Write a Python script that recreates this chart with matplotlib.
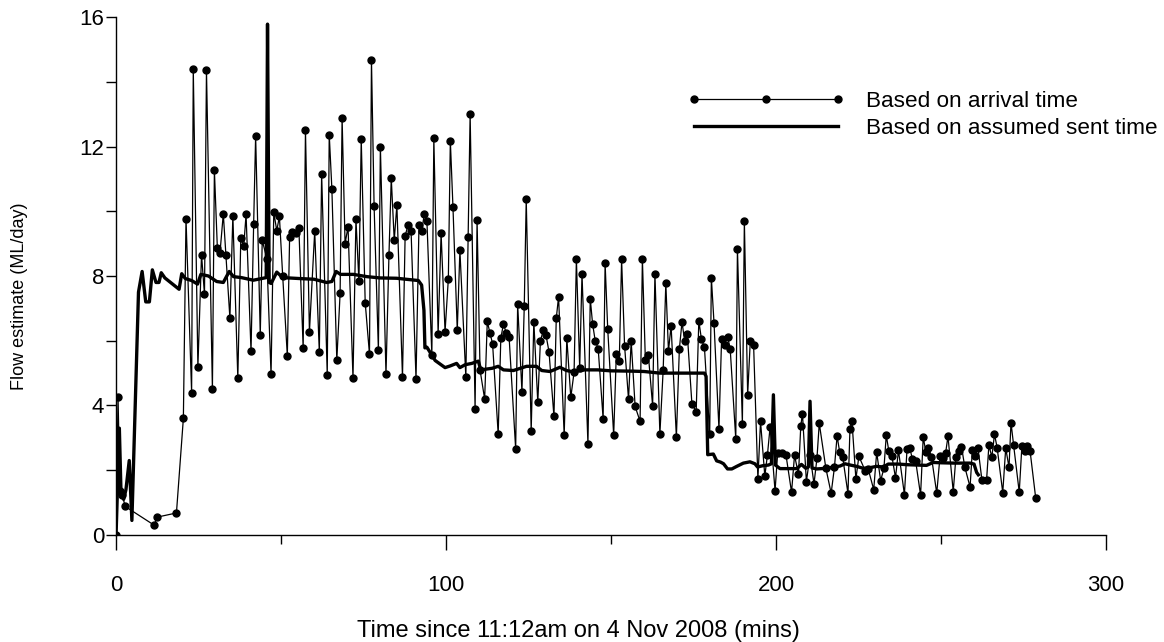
import matplotlib
matplotlib.use("Agg")
import matplotlib.pyplot as plt
from matplotlib.ticker import MultipleLocator

plt.rcParams['font.family'] = ['Liberation Sans', 'DejaVu Sans']

# flow estimates keyed on packet arrival time
arrival_t = [0.0, 0.6, 1.2, 1.8, 2.8, 11.6, 12.4, 18.3, 20.4, 21.2, 22.9, 23.4, 24.8, 25.9,
             26.8, 27.4, 29.2, 29.8, 30.7, 31.5, 32.5, 33.3, 34.5, 35.4, 36.9, 37.8, 38.7,
             39.4, 40.9, 41.7, 42.3, 43.7, 44.3, 45.7, 46.97, 47.8, 48.7, 49.5, 50.5, 51.9,
             52.6, 53.4, 54.4, 55.4, 56.7, 57.4, 58.6, 60.2, 61.6, 62.3, 64.0, 64.6, 65.4,
             66.9, 67.9, 68.5, 69.4, 70.3, 71.8, 72.7, 73.6, 74.3, 75.5, 76.8, 77.4, 78.2,
             79.5, 80.1, 81.8, 82.7, 83.4, 84.3, 85.1, 86.8, 87.6, 88.5, 89.4, 90.9, 91.8,
             92.6, 93.4, 94.2, 95.7, 96.3, 97.6, 98.5, 99.7, 100.7, 101.3, 102.1, 103.4,
             104.2, 106.0, 106.7, 107.3, 108.8, 109.4, 110.3, 111.7, 112.5, 113.3, 114.1,
             115.8, 116.6, 117.4, 118.2, 119.1, 121.1, 121.7, 123.0, 123.7, 124.3, 125.8,
             126.6, 127.8, 128.6, 129.5, 130.3, 131.2, 132.7, 133.4, 134.1, 135.8, 136.6,
             137.8, 138.8, 139.5, 140.5, 141.2, 143.0, 143.7, 144.4, 145.2, 146.1, 147.6,
             148.2, 149.0, 150.8, 151.6, 152.5, 153.2, 154.1, 155.3, 156.1, 157.3, 158.8,
             159.5, 160.4, 161.3, 162.6, 163.3, 164.8, 165.8, 166.6, 167.4, 168.2, 169.8,
             170.7, 171.5, 172.3, 173.1, 174.5, 175.8, 176.6, 177.4, 178.3, 179.9, 180.4,
             181.2, 182.7, 183.5, 184.4, 185.3, 186.1, 187.8, 188.3, 189.8, 190.4, 191.4,
             192.2, 193.2, 194.5, 195.3, 196.6, 197.4, 198.2, 199.7, 200.5, 201.7, 203.0,
             204.7, 205.6, 206.8, 207.5, 208.0, 209.2, 210.3, 211.5, 212.4, 213.1, 215.1,
             216.7, 217.7, 218.5, 219.3, 220.2, 221.8, 222.4, 223.0, 224.2, 225.1, 227.0,
             227.9, 229.6, 230.5, 231.7, 232.7, 233.4, 234.2, 235.1, 236.2, 237.1, 238.9,
             239.7, 240.5, 241.3, 242.3, 243.8, 244.6, 245.4, 246.2, 247.1, 248.7, 249.7,
             250.6, 251.4, 252.1, 253.7, 254.5, 255.4, 256.2, 257.2, 258.8, 259.5, 260.4,
             261.2, 262.4, 263.8, 264.5, 265.4, 266.2, 267.0, 268.7, 269.6, 270.6, 271.2,
             272.0, 273.7, 274.5, 275.3, 276.1, 277.0, 278.7]
arrival_flow = [0.0, 4.25, 1.35, 1.25, 0.88, 0.3, 0.55, 0.68, 3.6, 9.77, 4.4, 14.4, 5.19, 8.66,
                7.43, 14.36, 4.5, 11.27, 8.86, 8.72, 9.92, 8.64, 6.7, 9.86, 4.84, 9.16, 8.93,
                9.9, 5.67, 9.62, 12.33, 6.18, 9.1, 8.54, 4.96, 9.97, 9.4, 9.84, 8.0, 5.54,
                9.21, 9.36, 9.32, 9.48, 5.78, 12.5, 6.27, 9.38, 5.64, 11.15, 4.95, 12.37, 10.7,
                5.4, 7.47, 12.89, 9.0, 9.52, 4.85, 9.75, 7.83, 12.23, 7.18, 5.58, 14.68, 10.15,
                5.71, 12.0, 4.96, 8.65, 11.02, 9.11, 10.19, 4.88, 9.24, 9.58, 9.39, 4.82, 9.58,
                9.38, 9.9, 9.71, 5.57, 12.25, 6.22, 9.32, 6.28, 7.92, 12.18, 10.12, 6.33,
                8.79, 4.88, 9.22, 13.0, 3.88, 9.73, 5.1, 4.2, 6.6, 6.24, 5.91,
                3.12, 6.08, 6.52, 6.25, 6.13, 2.65, 7.13, 4.43, 7.06, 10.37, 3.21,
                6.59, 4.1, 6.0, 6.33, 6.17, 5.66, 3.66, 6.69, 7.36, 3.08, 6.08,
                4.25, 5.03, 8.52, 5.16, 8.06, 2.81, 7.3, 6.53, 6.0, 5.76, 3.59,
                8.4, 6.35, 3.08, 5.6, 5.38, 8.51, 5.85, 4.19, 5.99, 3.97, 3.51,
                8.53, 5.4, 5.57, 3.99, 8.07, 3.12, 5.1, 7.78, 5.68, 6.47, 3.02,
                5.74, 6.58, 6.0, 6.22, 4.06, 3.81, 6.62, 6.04, 5.8, 3.13, 7.94,
                6.56, 3.28, 6.06, 5.86, 6.13, 5.76, 2.96, 8.84, 3.44, 9.71, 4.33,
                6.0, 5.87, 1.73, 3.51, 1.82, 2.48, 3.34, 1.36, 2.54, 2.52, 2.48,
                1.32, 2.46, 1.88, 3.37, 3.75, 1.65, 2.47, 1.58, 2.37, 3.45, 2.06,
                1.29, 2.09, 3.06, 2.55, 2.4, 1.28, 3.28, 3.52, 1.73, 2.43, 1.99,
                2.05, 1.4, 2.55, 1.68, 2.06, 3.08, 2.58, 2.44, 1.77, 2.61, 1.25,
                2.66, 2.7, 2.35, 2.29, 1.23, 3.02, 2.57, 2.69, 2.41, 1.29, 2.44,
                2.37, 2.54, 3.05, 1.34, 2.4, 2.6, 2.73, 2.1, 1.48, 2.64, 2.45,
                2.68, 1.69, 1.7, 2.77, 2.41, 3.11, 2.7, 1.31, 2.68, 2.09, 3.47,
                2.77, 1.32, 2.75, 2.58, 2.75, 2.58, 1.13]

# flow estimates keyed on the assumed send time
sent_t = [0, 1.0, 1.5, 2.3, 3.0, 4.0, 4.8, 6.8, 7.9, 9.0, 10.1, 11.0, 12.1, 13.0, 13.7, 14.8,
          16.9, 19.1, 19.9, 21.0, 22.9, 24.7, 25.7, 28.0, 30.5, 32.5, 34.3, 35.6, 38.0, 41.6,
          44.0, 45.5, 45.9, 46.4, 47.0, 48.7, 50.5, 55.8, 60.0, 63.8, 65.4, 66.7, 68.0, 71.9,
          76.0, 80.0, 85.0, 91.6, 92.6, 93.3, 93.6, 94.2, 95.0, 96.7, 98.2, 99.7, 101.2,
          103.2, 104.2, 105.8, 107.8, 109.8, 110.5, 114.0, 115.8, 117.4, 120.4, 122.5,
          124.4, 127.4, 129.0, 131.5, 134.5, 136.5, 138.5, 142.0, 146.0, 150.0, 156.7,
          160.0, 164.8, 170.0, 178.3, 178.8, 179.3, 181.0, 182.0, 183.2, 184.1, 185.3,
          186.6, 188.1, 190.1, 192.1, 193.6, 194.4, 196.0, 197.7, 198.6, 199.2, 199.8,
          201.2, 203.5, 206.3, 207.7, 209.0, 209.8, 210.3, 210.9, 212.3, 215.3, 217.5,
          219.4, 220.9, 222.5, 224.4, 226.4, 228.5, 230.5, 232.5, 234.0, 237.0, 240.0,
          243.0, 245.6, 247.6, 250.0, 254.0, 258.8, 260.0, 260.8, 261.3]
sent_flow = [0, 3.3, 1.3, 1.1, 1.4, 2.3, 0.45, 7.5, 8.14, 7.2, 7.2, 8.19, 7.8, 7.8, 8.1, 7.94,
             7.77, 7.59, 8.07, 7.92, 7.86, 7.75, 8.05, 8.0, 7.83, 7.8, 8.14, 7.98, 7.95, 7.87,
             7.92, 7.95, 15.78, 7.8, 7.77, 8.12, 7.95, 7.92, 7.9, 7.8, 7.83, 8.14, 8.05, 8.05,
             7.98, 7.94, 7.93, 7.86, 7.72, 6.94, 5.78, 5.8, 5.67, 5.39, 5.28, 5.17, 5.22,
             5.3, 5.17, 5.26, 5.3, 5.37, 5.1, 5.15, 5.21, 5.1, 5.08, 5.15,
             5.21, 5.21, 5.08, 5.05, 5.18, 5.08, 5.04, 5.1, 5.1, 5.07, 5.06,
             5.05, 5.0, 5.0, 5.0, 4.9, 2.48, 2.5, 2.29, 2.25, 2.2, 2.04,
             2.04, 2.12, 2.22, 2.26, 2.2, 2.1, 2.14, 2.16, 2.2, 4.33, 2.16,
             2.05, 2.05, 2.05, 2.18, 2.06, 2.1, 4.13, 2.07, 2.04, 2.06, 2.1,
             2.13, 2.2, 2.16, 2.12, 2.06, 2.08, 2.12, 2.1, 2.19, 2.19, 2.17,
             2.16, 2.15, 2.24, 2.23, 2.22, 2.22, 2.19, 1.93, 1.86]

fig = plt.figure(figsize=(11.64, 6.42), dpi=100)
ax = fig.add_axes([0.0997, 0.1667, 0.8505, 0.8068])

ax.plot(arrival_t, arrival_flow, color='black', lw=0.9, marker='o', ms=5,
        label='Based on arrival time')
ax.plot(sent_t, sent_flow, color='black', lw=2.4, label='Based on assumed sent time')

ax.set_xlim(0, 300)
ax.set_ylim(0, 16)
ax.xaxis.set_major_locator(MultipleLocator(100))
ax.xaxis.set_minor_locator(MultipleLocator(50))
ax.yaxis.set_major_locator(MultipleLocator(4))
ax.yaxis.set_minor_locator(MultipleLocator(2))

for s in ('top', 'right'):
    ax.spines[s].set_visible(False)
for s in ('left', 'bottom'):
    ax.spines[s].set_linewidth(1.0)

ax.tick_params(axis='x', which='major', direction='out', length=11, width=1, pad=18, labelsize=16)
ax.tick_params(axis='x', which='minor', direction='out', length=6.5, width=1)
ax.tick_params(axis='y', which='both', direction='out', length=7, width=1, pad=1.5, labelsize=16)

ax.set_xlabel('Time since 11:12am on 4 Nov 2008 (mins)', fontsize=17)
ax.xaxis.set_label_coords(0.467, -0.164)
ax.set_ylabel('Flow estimate (ML/day)', fontsize=13)
ax.yaxis.set_label_coords(-0.089, 0.46)

ax.legend(loc='upper left', bbox_to_anchor=(0.577, 0.857), frameon=False, fontsize=16.2,
          numpoints=3, handlelength=7.0, handletextpad=0.95, labelspacing=0.25,
          borderpad=0, borderaxespad=0)

fig.savefig('out.png', dpi=100)
